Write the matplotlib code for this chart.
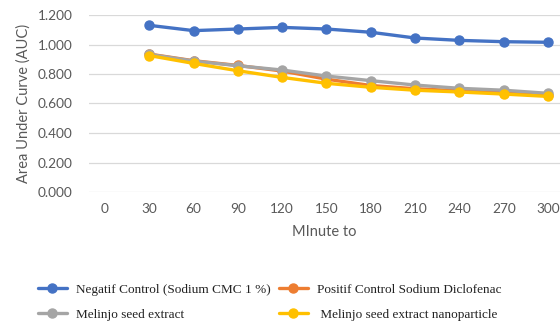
import matplotlib
matplotlib.use("Agg")
import matplotlib.pyplot as plt
import numpy as np

minutes = ["0", "30", "60", "90", "120", "150", "180", "210", "240", "270", "300"]

# AUC readings start at minute 30 (no value at 0)
negatif = [1.130, 1.094, 1.105, 1.116, 1.105, 1.083, 1.044, 1.028, 1.019, 1.015]
positif = [0.935, 0.890, 0.858, 0.820, 0.765, 0.722, 0.700, 0.686, 0.674, 0.656]
extract = [0.933, 0.888, 0.856, 0.827, 0.786, 0.755, 0.725, 0.703, 0.690, 0.669]
nano = [0.925, 0.872, 0.822, 0.777, 0.737, 0.710, 0.690, 0.678, 0.664, 0.648]

series = [
    ("Negatif Control (Sodium CMC 1 %)", negatif, "#4472C4"),
    ("Positif Control Sodium Diclofenac", positif, "#ED7D31"),
    ("Melinjo seed extract", extract, "#A5A5A5"),
    (" Melinjo seed extract nanoparticle", nano, "#FFC000"),
]

W, H = 560, 322
fig = plt.figure(figsize=(W / 100, H / 100), dpi=100)
ax = fig.add_axes([89 / W, 1 - 192 / H, (W - 89) / W, 177 / H])

x = np.arange(1, len(minutes))
lines = []
for label, vals, color in series:
    ln, = ax.plot(x, vals, color=color, lw=2.4, marker="o", ms=6.5,
                  solid_capstyle="round", label=label)
    lines.append(ln)

ax.set_ylim(0, 1.2)
ax.set_yticks(np.arange(0, 1.21, 0.2))
ax.set_yticklabels([f"{v:.3f}" for v in np.arange(0, 1.21, 0.2)])
ax.set_xticks(np.arange(len(minutes)))
ax.set_xticklabels(minutes)
ax.set_xlim(-0.36, 10.27)

ax.grid(axis="y", color="#D9D9D9", lw=0.9)
ax.set_axisbelow(True)
for s in ax.spines.values():
    s.set_visible(False)
ax.tick_params(length=0, colors="#595959", labelsize=9.8, labelfontfamily="Lato")
ax.tick_params(axis="x", pad=8)
ax.tick_params(axis="y", pad=12)

ax.set_xlabel("MInute to", fontsize=10.5, color="#595959", family="Lato", labelpad=7)
ax.set_ylabel("Area Under Curve (AUC)", fontsize=10.5, color="#595959", family="Lato",
              labelpad=5)

# legend filled row by row: ncol fills by column, so reorder
order = [0, 2, 1, 3]
fig.legend([lines[i] for i in order], [series[i][0] for i in order],
           loc="upper left", bbox_to_anchor=(26 / W, 1 - 272 / H), ncol=2,
           frameon=False, prop={"family": "Liberation Serif", "size": 9.5},
           handlelength=2.2, columnspacing=0.6, labelspacing=0.95, handletextpad=0.7,
           labelcolor="#222222")

fig.savefig("out.png", dpi=100)
